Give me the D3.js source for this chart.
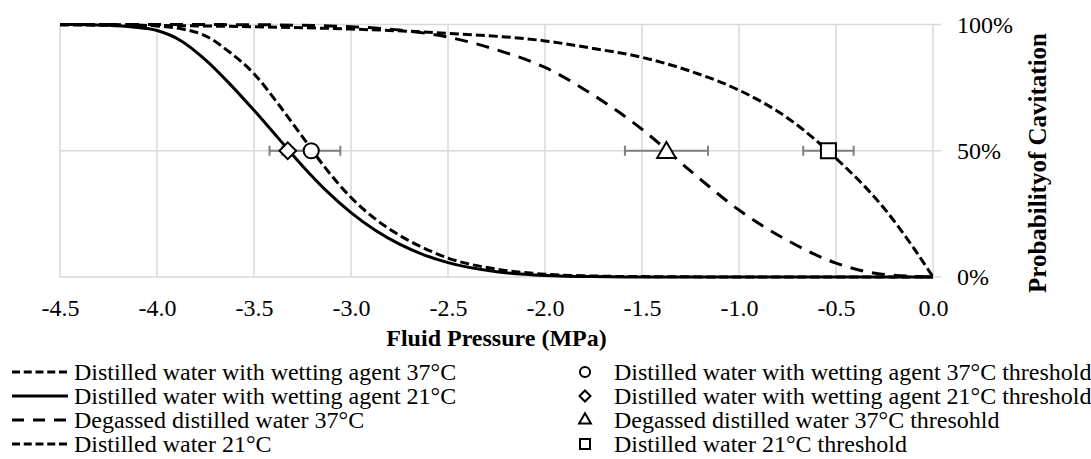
<!DOCTYPE html>
<html>
<head>
<meta charset="utf-8">
<script src="https://cdn.jsdelivr.net/npm/d3@7/dist/d3.min.js"></script>
<style>
  body { margin: 0; background: #fff; }
  svg text { font-family: "Times New Roman", "Liberation Serif", serif; fill: #000; }
  .grid line { stroke: #d9d9d9; stroke-width: 1.5; }
</style>
</head>
<body>
<div id="chart"></div>
<script>
// ---- data ----
// probability curves (pressure in MPa, probability in %)
var wet37P    = [-4.5, -4.25, -4.125, -4.0, -3.875, -3.75, -3.625, -3.5, -3.375, -3.25, -3.125, -3.0, -2.875, -2.75, -2.625, -2.5, -2.25, -2.0, -1.75, -1.5, -1.0, -0.5, 0];
var wet37Prob = [100, 99.95, 99.8, 99.4, 98.3, 95.5, 89, 80.5, 68.5, 55.5, 42.5, 31.5, 23, 16.5, 11.5, 7.5, 3.1, 1.1, 0.4, 0.15, 0.02, 0, 0];

var wet21P    = [-4.5, -4.375, -4.25, -4.125, -4.0, -3.875, -3.75, -3.625, -3.5, -3.375, -3.25, -3.125, -3.0, -2.875, -2.75, -2.625, -2.5, -2.25, -2.0, -1.75, -1.5, -1.0, 0];
var wet21Prob = [100, 99.95, 99.7, 99.0, 97.6, 93.5, 86, 76.5, 66, 55, 44, 34, 25.5, 18.5, 13, 8.8, 5.7, 2.1, 0.6, 0.15, 0.03, 0, 0];

var degas37P    = [-4.5, -4.0, -3.5, -3.0, -2.75, -2.5, -2.25, -2.0, -1.75, -1.5, -1.25, -1.0, -0.75, -0.5, -0.25, 0];
var degas37Prob = [100, 100, 99.9, 99.1, 97.8, 95, 90, 83, 72, 58.5, 42, 26.5, 14.5, 5.5, 1, 0];

var dist21P    = [-4.5, -4.0, -3.5, -3.0, -2.5, -2.0, -1.75, -1.5, -1.25, -1.0, -0.75, -0.5, -0.25, -0.1, 0];
var dist21Prob = [99.8, 99.6, 99.1, 98.2, 96.5, 93.5, 90.5, 87, 81.5, 74, 63, 47, 27, 11.5, 0];

var curveNames = [
  'Distilled water with wetting agent 37\u00B0C',
  'Distilled water with wetting agent 21\u00B0C',
  'Degassed distilled water 37\u00B0C',
  'Distilled water 21\u00B0C'
];

// thresholds (pressure at 50%, horizontal error)
var thresholdNames = [
  'Distilled water with wetting agent 37\u00B0C threshold',
  'Distilled water with wetting agent 21\u00B0C threshold',
  'Degassed distilled water 37\u00B0C thresohld',
  'Distilled water 21\u00B0C threshold'
];
var thresholdP    = [-3.205, -3.326, -1.374, -0.539];
var thresholdProb = [50, 50, 50, 50];
var thresholdErr  = [0.15, 0.094, 0.214, 0.13];

var xTicks = [-4.5, -4.0, -3.5, -3.0, -2.5, -2.0, -1.5, -1.0, -0.5, 0.0];
var yTicks = [0, 50, 100];

// ---- chart ----
var width = 1091, height = 459;
var svg = d3.select('#chart').append('svg')
  .attr('width', width).attr('height', height);

var x = d3.scaleLinear().domain([-4.5, 0]).range([60, 933]);
var y = d3.scaleLinear().domain([0, 100]).range([277, 24.5]);

// grid
var grid = svg.append('g').attr('class', 'grid');
grid.selectAll('.vx').data(xTicks).enter().append('line')
  .attr('x1', function(d){ return x(d); }).attr('x2', function(d){ return x(d); })
  .attr('y1', y(0)).attr('y2', y(100));
grid.selectAll('.hy').data(yTicks).enter().append('line')
  .attr('x1', x(-4.5)).attr('x2', x(0) + 8)
  .attr('y1', function(d){ return y(d); }).attr('y2', function(d){ return y(d); });

// x axis labels (plain hyphen minus like the original)
var fmt = d3.format('.1f');
var xAxis = svg.append('g')
  .attr('transform', 'translate(0,' + y(0) + ')')
  .call(d3.axisBottom(x).tickValues(xTicks)
    .tickFormat(function(d){ return fmt(d).replace('\u2212', '-'); })
    .tickSize(0).tickPadding(0));
xAxis.attr('font-family', null).attr('font-size', null);
xAxis.select('.domain').remove();
xAxis.selectAll('text').attr('font-size', 24).attr('y', 39).attr('dy', 0);

// y axis labels on the right
var yAxis = svg.append('g')
  .attr('transform', 'translate(' + x(0) + ',0)')
  .call(d3.axisRight(y).tickValues(yTicks).tickFormat(function(d){ return d + '%'; }).tickSize(0).tickPadding(24));
yAxis.attr('font-family', null).attr('font-size', null);
yAxis.select('.domain').remove();
yAxis.selectAll('text').attr('font-size', 24);

// axis titles
svg.append('text')
  .attr('x', (x(-4.5) + x(0)) / 2).attr('y', 346)
  .attr('text-anchor', 'middle').attr('font-size', 24).attr('font-weight', 'bold')
  .text('Fluid Pressure (MPa)');
svg.append('text')
  .attr('transform', 'translate(1046,163) rotate(-90)')
  .attr('text-anchor', 'middle').attr('font-size', 25).attr('font-weight', 'bold')
  .text('Probabilityof Cavitation');

// curves
var series = [
  { p: wet37P, v: wet37Prob, dash: '9,4', legDash: '8,3.75' },
  { p: wet21P, v: wet21Prob, dash: null, legDash: null },
  { p: degas37P, v: degas37Prob, dash: '13,9', legDash: '12,9' },
  { p: dist21P, v: dist21Prob, dash: '9,4', legDash: '8,3.75' }
];
var line = d3.line()
  .x(function(d){ return x(d[0]); })
  .y(function(d){ return y(d[1]); })
  .curve(d3.curveMonotoneX);

svg.append('g').selectAll('path').data(series).enter().append('path')
  .attr('d', function(s){ return line(d3.zip(s.p, s.v)); })
  .attr('fill', 'none').attr('stroke', '#000').attr('stroke-width', 3)
  .attr('stroke-dasharray', function(s){ return s.dash; });

// error bars
var thr = d3.range(thresholdP.length).map(function(i){
  return { p: thresholdP[i], v: thresholdProb[i], e: thresholdErr[i], i: i };
});
var eb = svg.append('g').attr('stroke', '#7f7f7f').attr('stroke-width', 2);
thr.forEach(function(d){
  eb.append('line').attr('x1', x(d.p - d.e)).attr('x2', x(d.p + d.e)).attr('y1', y(d.v)).attr('y2', y(d.v));
  [d.p - d.e, d.p + d.e].forEach(function(c){
    eb.append('line').attr('x1', x(c)).attr('x2', x(c)).attr('y1', y(d.v) - 5).attr('y2', y(d.v) + 5);
  });
});

// markers
var markerTypes = [d3.symbolCircle, d3.symbolSquare, d3.symbolTriangle, d3.symbolSquare];
var markerSizes = [180, 140, 150, 225];
var markerRot   = [0, 45, 0, 0];
var legendSizes = [80, 60, 60, 100];

// diamond first, circle drawn over it as in the figure
[1, 0, 2, 3].forEach(function(i){
  var d = thr[i];
  svg.append('path')
    .attr('d', d3.symbol().type(markerTypes[i]).size(markerSizes[i])())
    .attr('transform', 'translate(' + x(d.p) + ',' + (y(d.v) + (i === 2 ? 2 : 0)) + ') rotate(' + markerRot[i] + ')')
    .attr('fill', '#fff').attr('stroke', '#000').attr('stroke-width', 2);
});

// legend
var rowY = [372, 396, 420, 444];
var legL = svg.append('g');
series.forEach(function(s, i){
  legL.append('line')
    .attr('x1', 12).attr('x2', 68).attr('y1', rowY[i]).attr('y2', rowY[i])
    .attr('stroke', '#000').attr('stroke-width', 3)
    .attr('stroke-dasharray', s.legDash);
  legL.append('text')
    .attr('x', 74).attr('y', rowY[i]).attr('dy', '0.33em')
    .attr('font-size', 24).text(curveNames[i]);
});
var legR = svg.append('g');
thresholdNames.forEach(function(name, i){
  legR.append('path')
    .attr('d', d3.symbol().type(markerTypes[i]).size(legendSizes[i])())
    .attr('transform', 'translate(585,' + rowY[i] + ') rotate(' + markerRot[i] + ')')
    .attr('fill', '#fff').attr('stroke', '#000').attr('stroke-width', 2);
  legR.append('text')
    .attr('x', 614).attr('y', rowY[i]).attr('dy', '0.33em')
    .attr('font-size', 24).text(name);
});
</script>
</body>
</html>
